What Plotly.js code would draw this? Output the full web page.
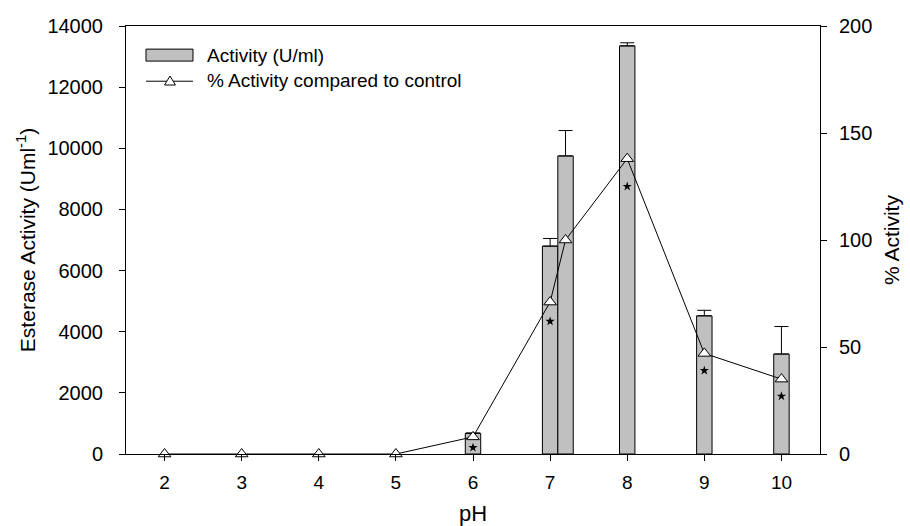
<!DOCTYPE html>
<html>
<head>
<meta charset="utf-8">
<script src="https://cdn.plot.ly/plotly-3.0.1.min.js"></script>
<style>html,body{margin:0;padding:0;background:#fff;}#chart{width:910px;height:526px;}</style>
</head>
<body>
<div id="chart"></div>
<script>
// Bar series: esterase activity (U/ml)
const barPH = [6, 7, 7.2, 8, 9, 10];
const barActivity = [680, 6800, 9750, 13350, 4520, 3270];
const barErrorPlus = [0, 250, 830, 100, 180, 900];

// Line series: % activity compared to control
const linePH = [2, 3, 4, 5, 6, 7, 7.2, 8, 9, 10];
const linePercent = [0, 0, 0, 0, 8, 71, 100, 138, 47, 35];

// Significance stars (% axis)
const starPH = [6, 7, 8, 9, 10];
const starY = [3, 62, 125, 39, 27];

const xTicks = [2, 3, 4, 5, 6, 7, 8, 9, 10];
const legendLabels = ['Activity (U/ml)', '% Activity compared to control'];

const font = 'Liberation Sans, Arial, sans-serif';

const traces = [
  {
    type: 'bar', name: legendLabels[0], x: barPH, y: barActivity, width: 0.2,
    marker: {color: '#c0c0c0', line: {color: '#000', width: 1}},
    error_y: {type: 'data', symmetric: false, array: barErrorPlus,
      arrayminus: barErrorPlus.map(() => 0), color: '#000', thickness: 1, width: 7},
    yaxis: 'y', showlegend: false
  },
  {
    type: 'scatter', mode: 'lines+markers', name: legendLabels[1],
    x: linePH, y: linePercent, yaxis: 'y2', cliponaxis: false, showlegend: false,
    line: {color: '#000', width: 1},
    marker: {symbol: 'triangle-up', size: 11, color: '#fff', line: {color: '#000', width: 1}}
  },
  {
    type: 'scatter', mode: 'markers', x: starPH, y: starY, yaxis: 'y2', showlegend: false,
    hoverinfo: 'skip', cliponaxis: false,
    marker: {symbol: 'star', size: 7, color: '#000'}
  }
];

// custom legend (paper coordinates)
const shapes = [
  {type: 'rect', xref: 'paper', yref: 'paper', x0: 0.0288, x1: 0.0965, y0: 0.918, y1: 0.946,
    fillcolor: '#c0c0c0', line: {color: '#000', width: 1}},
  {type: 'line', xref: 'paper', yref: 'paper', x0: 0.0288, x1: 0.0965, y0: 0.871, y1: 0.871,
    line: {color: '#000', width: 1}},
  {type: 'path', xref: 'paper', yref: 'paper',
    path: 'M0.0555,0.8621 L0.0713,0.8621 L0.0634,0.8832 Z',
    fillcolor: '#fff', line: {color: '#000', width: 1}}
];
const annotations = [
  {xref: 'paper', yref: 'paper', x: 0.1138, y: 0.932, xanchor: 'left', yanchor: 'middle',
    text: legendLabels[0], showarrow: false, font: {family: font, size: 19, color: '#000'}},
  {xref: 'paper', yref: 'paper', x: 0.1138, y: 0.872, xanchor: 'left', yanchor: 'middle',
    text: legendLabels[1], showarrow: false, font: {family: font, size: 19, color: '#000'}}
];

const layout = {
  width: 910, height: 526,
  margin: {l: 126, r: 90, t: 26, b: 72},
  paper_bgcolor: '#fff', plot_bgcolor: '#fff',
  font: {family: font, size: 20, color: '#000'},
  showlegend: false,
  shapes: shapes, annotations: annotations,
  xaxis: {
    range: [1.5, 10.5], tickvals: xTicks, ticktext: xTicks.map(String),
    showgrid: false, zeroline: false, showline: true, linecolor: '#000', linewidth: 1,
    mirror: true, ticks: 'outside', ticklen: 6, tickcolor: '#000', ticklabelstandoff: 5,
    title: {text: 'pH', font: {family: font, size: 22}, standoff: 14},
    tickfont: {family: font, size: 19}
  },
  yaxis: {
    range: [0, 14000], dtick: 2000, tickformat: 'd', showgrid: false, zeroline: false,
    showline: true, linecolor: '#000', linewidth: 1, ticks: 'outside', ticklen: 6,
    tickcolor: '#000', tickfont: {family: font, size: 20}, ticklabelstandoff: 12,
    title: {text: 'Esterase Activity (Uml<sup>-1</sup>)', font: {family: font, size: 21}, standoff: 6}
  },
  yaxis2: {
    range: [0, 200], dtick: 50, overlaying: 'y', side: 'right', showgrid: false,
    zeroline: false, showline: true, linecolor: '#000', linewidth: 1, ticks: 'outside',
    ticklen: 6, tickcolor: '#000', tickfont: {family: font, size: 20}, ticklabelstandoff: 8,
    title: {text: '% Activity', font: {family: font, size: 21}, standoff: 12}
  }
};

Plotly.newPlot('chart', traces, layout, {displayModeBar: false, staticPlot: true});
</script>
</body>
</html>
